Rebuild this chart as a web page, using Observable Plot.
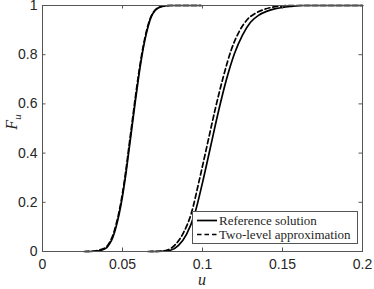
<!DOCTYPE html>
<html>
<head>
<meta charset="utf-8">
<script src="https://cdn.jsdelivr.net/npm/d3@7"></script>
<script src="https://cdn.jsdelivr.net/npm/@observablehq/plot@0.6"></script>
<style>
  html, body { margin: 0; padding: 0; background: white; }
  #wrap { position: relative; width: 374px; height: 289px; }
  #legend { position: absolute; left: 192px; top: 211px; }
</style>
</head>
<body>
<div id="wrap"></div>
<script>
// ---- data ----
const refLowU = [0.027, 0.032, 0.036, 0.040, 0.042, 0.044, 0.046, 0.048, 0.050, 0.052, 0.054, 0.056, 0.058, 0.060, 0.062, 0.064, 0.066, 0.068, 0.070, 0.072, 0.075, 0.080, 0.099];
const refLowF = [0, 0.001, 0.004, 0.015, 0.032, 0.058, 0.10, 0.155, 0.225, 0.31, 0.41, 0.51, 0.61, 0.705, 0.79, 0.86, 0.915, 0.955, 0.977, 0.989, 0.996, 1.0, 1.0];
const appLowU = [0.026, 0.031, 0.035, 0.040, 0.042, 0.044, 0.046, 0.048, 0.050, 0.052, 0.054, 0.056, 0.058, 0.060, 0.062, 0.064, 0.066, 0.068, 0.070, 0.072, 0.075, 0.080, 0.099];
const appLowF = [0, 0.001, 0.005, 0.019, 0.038, 0.066, 0.11, 0.166, 0.237, 0.324, 0.425, 0.525, 0.625, 0.718, 0.80, 0.868, 0.921, 0.958, 0.979, 0.990, 0.997, 1.0, 1.0];

const refHighU = [0.0675, 0.075, 0.080, 0.085, 0.090, 0.095, 0.100, 0.105, 0.110, 0.115, 0.120, 0.125, 0.130, 0.135, 0.140, 0.145, 0.150, 0.155, 0.162, 0.175, 0.2];
const refHighF = [0, 0.001, 0.005, 0.025, 0.070, 0.150, 0.280, 0.425, 0.570, 0.700, 0.805, 0.880, 0.932, 0.960, 0.976, 0.986, 0.992, 0.996, 1.0, 1.0, 1.0];
const appHighU = [0.066, 0.073, 0.078, 0.083, 0.088, 0.093, 0.098, 0.103, 0.108, 0.113, 0.118, 0.123, 0.128, 0.133, 0.138, 0.143, 0.148, 0.155, 0.175, 0.2];
const appHighF = [0, 0.001, 0.006, 0.028, 0.075, 0.155, 0.29, 0.435, 0.58, 0.71, 0.82, 0.895, 0.943, 0.968, 0.983, 0.992, 0.997, 1.0, 1.0, 1.0];

const xTicks = [0, 0.05, 0.1, 0.15, 0.2];
const xTickLabels = ["0", "0.05", "0.1", "0.15", "0.2"];
const yTicks = [0, 0.2, 0.4, 0.6, 0.8, 1];
const yTickLabels = ["0", "0.2", "0.4", "0.6", "0.8", "1"];
const seriesNames = ["Reference solution", "Two-level approximation"];

// ---- chart ----
const W = 374, H = 289;
const mTop = 5, mRight = 12, mBottom = 38, mLeft = 42;
const innerH = H - mTop - mBottom, innerW = W - mLeft - mRight;
const tickLen = 3.5;
const axisColor = "#555";

const pts = (us, fs) => us.map((u, i) => ({u, F: fs[i]}));

const plot = Plot.plot({
  width: W, height: H,
  marginTop: mTop, marginRight: mRight, marginBottom: mBottom, marginLeft: mLeft,
  style: {fontFamily: "'Liberation Sans', Arial, sans-serif", fontSize: "14px", color: "#262626", background: "white", overflow: "visible"},
  x: {domain: [0, 0.2]},
  y: {domain: [0, 1]},
  marks: [
    Plot.line(pts(refLowU, refLowF), {x: "u", y: "F", stroke: "black", strokeWidth: 1.7, curve: "monotone-x"}),
    Plot.line(pts(appLowU, appLowF), {x: "u", y: "F", stroke: "black", strokeWidth: 1.7, strokeDasharray: "5,3", curve: "monotone-x"}),
    Plot.line(pts(refHighU, refHighF), {x: "u", y: "F", stroke: "black", strokeWidth: 1.7, curve: "monotone-x"}),
    Plot.line(pts(appHighU, appHighF), {x: "u", y: "F", stroke: "black", strokeWidth: 1.7, strokeDasharray: "5,3", curve: "monotone-x"}),
    Plot.axisX({ticks: xTicks, tickSize: 0, tickPadding: 8, tickFormat: (d, i) => xTickLabels[i], label: null, fill: "#262626"}),
    Plot.axisY({ticks: yTicks, tickSize: 0, tickPadding: 5, tickFormat: (d, i) => yTickLabels[i], label: null, fill: "#262626"}),
    // inward ticks on all four sides
    Plot.tickX(xTicks, {x: d => d, insetTop: innerH - tickLen, stroke: axisColor}),
    Plot.tickX(xTicks, {x: d => d, insetBottom: innerH - tickLen, stroke: axisColor}),
    Plot.tickY(yTicks, {y: d => d, insetRight: innerW - tickLen, stroke: axisColor}),
    Plot.tickY(yTicks, {y: d => d, insetLeft: innerW - tickLen, stroke: axisColor}),
    Plot.frame({stroke: axisColor})
  ]
});

const wrap = document.getElementById("wrap");
wrap.appendChild(plot);

// axis labels (italic serif, MATLAB/LaTeX style)
const svg = d3.select(plot);
svg.append("text")
  .attr("x", mLeft + innerW / 2).attr("y", 285)
  .attr("text-anchor", "middle")
  .attr("font-family", "'Liberation Serif', 'DejaVu Serif', serif")
  .attr("font-style", "italic").attr("font-size", 16).attr("fill", "#262626")
  .text("u");
const yl = svg.append("text")
  .attr("transform", `translate(17,${mTop + innerH / 2 - 6}) rotate(-90)`)
  .attr("text-anchor", "middle")
  .attr("font-family", "'Liberation Serif', 'DejaVu Serif', serif")
  .attr("font-style", "italic").attr("font-size", 16).attr("fill", "#262626");
yl.append("tspan").text("F");
yl.append("tspan").attr("font-size", 11).attr("dy", 4).text("u");

// legend
const lg = d3.select(wrap).append("svg").attr("id", "legend")
  .attr("width", 166).attr("height", 33);
lg.append("rect").attr("x", 0.5).attr("y", 0.5).attr("width", 165).attr("height", 32)
  .attr("fill", "white").attr("stroke", axisColor);
seriesNames.forEach((name, i) => {
  const cy = 9.5 + i * 14;
  lg.append("line").attr("x1", 5).attr("x2", 25).attr("y1", cy).attr("y2", cy)
    .attr("stroke", "black").attr("stroke-width", 1.7)
    .attr("stroke-dasharray", i === 0 ? null : "4.5,3");
  lg.append("text").attr("x", 27).attr("y", cy + 4.5)
    .attr("font-family", "'Liberation Serif', 'DejaVu Serif', serif")
    .attr("font-size", 13).attr("fill", "#262626")
    .text(name);
});
</script>
</body>
</html>
